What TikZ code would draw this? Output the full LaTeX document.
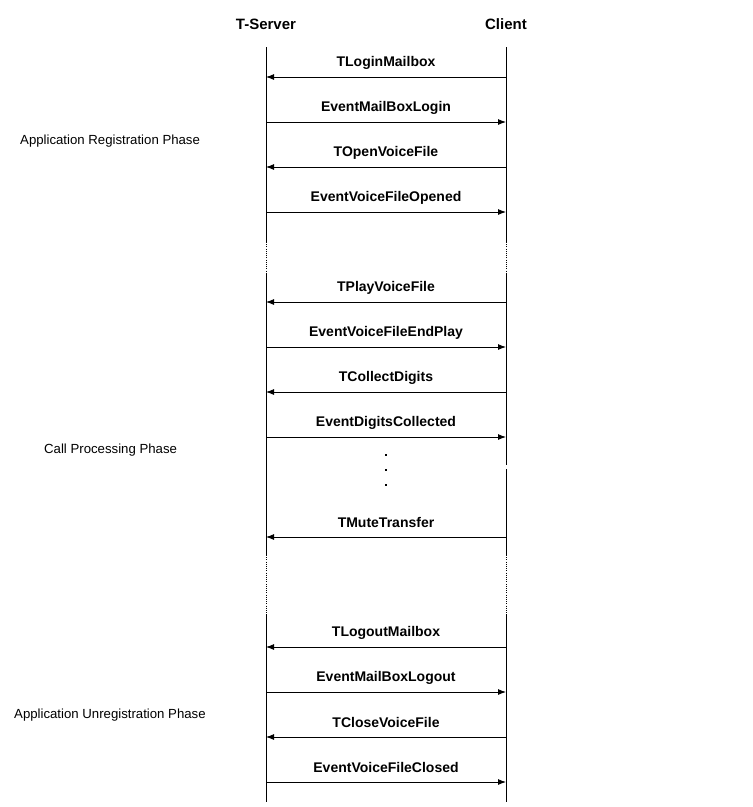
\documentclass[tikz,border=0pt]{standalone}
\usepackage{fontspec}
\setmainfont{Liberation Sans}
\usetikzlibrary{arrows.meta}
\begin{document}
\begin{tikzpicture}[x=1pt,y=-1pt,
  head/.style={font=\fontsize{15}{17}\selectfont\bfseries, inner sep=0pt},
  msglabel/.style={font=\fontsize{14}{16}\selectfont\bfseries, inner sep=0pt},
  phase/.style={font=\fontsize{13.2}{15}\selectfont, inner sep=0pt, anchor=west},
  life/.style={line width=0.9pt, black},
  gapline/.style={line width=0.9pt, black, dash pattern=on 1pt off 1.2pt},
  msg/.style={line width=0.9pt, black, -{Latex[length=8pt,width=6pt]}}]
\useasboundingbox (0,0) rectangle (753,807);
\fill[white] (0,0) rectangle (753,807);
% headers
\node[head] (srv) at (266,24) {T-Server};
\node[head] (cli) at (506,24) {Client};
% lifeline coordinates
\coordinate (sT) at (266,47);  \coordinate (cT) at (506,47);
\coordinate (sA) at (266,242); \coordinate (cA) at (506,242);
\coordinate (sB) at (266,273); \coordinate (cB) at (506,273);
\coordinate (sC) at (266,555); \coordinate (cC) at (506,555);
\coordinate (sD) at (266,615); \coordinate (cD) at (506,615);
\coordinate (sE) at (266,802); \coordinate (cE) at (506,802);
\coordinate (cG1) at (506,465); \coordinate (cG2) at (506,469);
\draw[life] (sT) -- (sA); \draw[gapline] (sA) -- (sB);
\draw[life] (sB) -- (sC); \draw[gapline] (sC) -- (sD);
\draw[life] (sD) -- (sE);
\draw[life] (cT) -- (cA); \draw[gapline] (cA) -- (cB);
\draw[life] (cB) -- (cG1); \draw[life] (cG2) -- (cC);
\draw[gapline] (cC) -- (cD);
\draw[life] (cD) -- (cE);
% messages: name/y/direction/text
\foreach \n/\y/\dir/\t in {
  m1/77/l/TLoginMailbox,
  m2/122/r/EventMailBoxLogin,
  m3/167/l/TOpenVoiceFile,
  m4/212/r/EventVoiceFileOpened,
  m5/302/l/TPlayVoiceFile,
  m6/347/r/EventVoiceFileEndPlay,
  m7/392/l/TCollectDigits,
  m8/437/r/EventDigitsCollected,
  m9/537/l/TMuteTransfer,
  m10/647/l/TLogoutMailbox,
  m11/692/r/EventMailBoxLogout,
  m12/737/l/TCloseVoiceFile,
  m13/782/r/EventVoiceFileClosed}{
  \coordinate (\n s) at (266,\y);
  \coordinate (\n c) at (506,\y);
  \node[msglabel] (\n t) at (386,\y-14.5) {\t};
  \if\dir l
    \draw[msg] (\n c) -- (\n s);
  \else
    \draw[msg] (\n s) -- (\n c);
  \fi
}
% ellipsis dots
\foreach \i/\y in {1/455,2/470,3/485}{
  \node[fill=black, inner sep=0pt, minimum size=2pt] (dot\i) at (386,\y) {};
}
% phases
\node[phase] (ph1) at (20,141.5) {Application Registration Phase};
\node[phase] (ph2) at (44,450.5) {Call Processing Phase};
\node[phase] (ph3) at (14,715.5) {Application Unregistration Phase};
\end{tikzpicture}
\end{document}
